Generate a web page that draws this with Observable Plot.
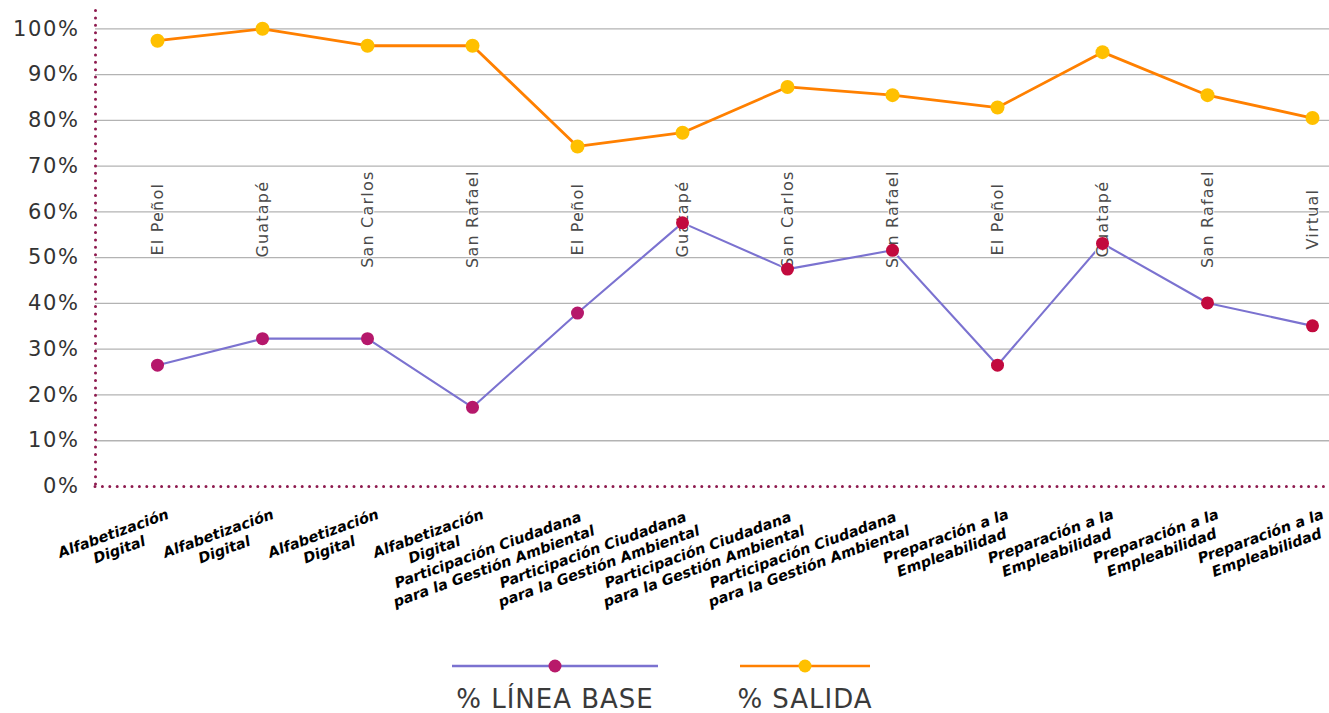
<!DOCTYPE html>
<html><head><meta charset="utf-8">
<script src="https://cdn.jsdelivr.net/npm/d3@7"></script>
<script src="https://cdn.jsdelivr.net/npm/@observablehq/plot@0.6"></script>
<style>
body{margin:0;background:#fff;}
#chart svg,#legend svg{display:block;}
</style></head><body><div id="chart"></div><div id="legend"></div>
<script>
const programas = [
  "Alfabetización\nDigital","Alfabetización\nDigital","Alfabetización\nDigital","Alfabetización\nDigital",
  "Participación Ciudadana\npara la Gestión Ambiental","Participación Ciudadana\npara la Gestión Ambiental",
  "Participación Ciudadana\npara la Gestión Ambiental","Participación Ciudadana\npara la Gestión Ambiental",
  "Preparación a la\nEmpleabilidad","Preparación a la\nEmpleabilidad","Preparación a la\nEmpleabilidad","Preparación a la\nEmpleabilidad"
];
const municipios = ["El Peñol","Guatapé","San Carlos","San Rafael","El Peñol","Guatapé","San Carlos","San Rafael","El Peñol","Guatapé","San Rafael","Virtual"];
const lineaBase = [26.5, 32.3, 32.3, 17.3, 37.9, 57.6, 47.5, 51.6, 26.5, 53.1, 40.1, 35.1];
const salida    = [97.4, 100, 96.3, 96.3, 74.3, 77.3, 87.3, 85.5, 82.8, 94.9, 85.5, 80.5];
const yTicks = [0,10,20,30,40,50,60,70,80,90,100];
const seriesNames = ["% LÍNEA BASE", "% SALIDA"];

const idx = d3.range(municipios.length);
const rows = idx.map(i => ({i, programa: programas[i], municipio: municipios[i], base: lineaBase[i], salida: salida[i]}));

const W = 1329, H = 645;
const FONT = "DejaVu Sans";
const theta = 20 * Math.PI / 180;
const LFS = 14.5;
const ctx = document.createElement("canvas").getContext("2d");
ctx.font = `italic bold ${LFS}px "${FONT}"`;

const groupMarks = Array.from(new Set(programas)).map(p => {
  const w = d3.max(p.split("\n"), s => ctx.measureText(s).width);
  const cx = 8, cy = 20;
  return Plot.text(rows.filter(d => d.programa === p), {
    x: "i", y: 0, text: "programa",
    textAnchor: "middle", lineAnchor: "top", rotate: -20,
    dx: cx - w / 2 * Math.cos(theta), dy: cy + w / 2 * Math.sin(theta),
    fontSize: LFS, fontWeight: "bold", fontStyle: "italic", fontFamily: FONT,
    fill: "#000", lineHeight: 1.2
  });
});

const dotted = {stroke: "#8e1b4f", strokeWidth: 3, strokeDasharray: "0 7.4", strokeLinecap: "round"};

const chart = Plot.plot({
  width: W, height: H,
  marginLeft: 95, marginRight: 0, marginTop: 10, marginBottom: 159,
  style: {color: "#333", fontFamily: FONT, background: "#fff"},
  x: {type: "point", domain: idx, range: [152, 1317], padding: 0, axis: null},
  y: {domain: [0, 104], axis: null},
  color: {type: "identity"},
  marks: [
    Plot.ruleY(yTicks.filter(t => t > 0), {stroke: "#b3b3b3", strokeWidth: 1.3}),
    Plot.axisY(yTicks, {tickSize: 0, tickPadding: 16, tickFormat: d => d + "%", fontSize: 21, fill: "#333"}),
    Plot.frame({anchor: "left", ...dotted}),
    Plot.ruleY([0], dotted),
    Plot.line(rows, {x: "i", y: "base", stroke: "#7b72d0", strokeWidth: 2.1}),
    Plot.line(rows, {x: "i", y: "salida", stroke: "#ff8000", strokeWidth: 2.8}),
    Plot.text(rows, {x: "i", y: 58.4, text: "municipio", rotate: -90, textAnchor: "middle", lineAnchor: "middle",
      fontSize: 16, fontFamily: FONT, fill: "#4a4a4a", stroke: "#fff", strokeWidth: 2}),
    Plot.dot(rows, {x: "i", y: "base", r: 6.5, fill: d => d.i < 5 ? "#b5186b" : "#c20a3e", stroke: null}),
    Plot.dot(rows, {x: "i", y: "salida", r: 7, fill: "#ffc000", stroke: null}),
    ...groupMarks
  ]
});
document.getElementById("chart").appendChild(chart);
d3.select(chart).selectAll("text")
  .filter(function() { return (this.getAttribute("transform") || "").includes("rotate(-90)"); })
  .style("letter-spacing", "1.2px");
d3.select(chart).selectAll("text")
  .filter(function() { return /^\d+%$/.test(this.textContent); })
  .style("letter-spacing", "1.6px");

// Legend
const lg = d3.select("#legend").append("svg").attr("width", W).attr("height", 713 - H)
  .style("font-family", FONT);
const items = [
  {name: seriesNames[0], x1: 452, x2: 658, line: "#7b72d0", dot: "#b81a6a"},
  {name: seriesNames[1], x1: 740, x2: 870, line: "#ff8000", dot: "#ffc000"}
];
items.forEach(it => {
  lg.append("line").attr("x1", it.x1).attr("x2", it.x2).attr("y1", 21).attr("y2", 21)
    .attr("stroke", it.line).attr("stroke-width", 2.6);
  lg.append("circle").attr("cx", (it.x1 + it.x2) / 2).attr("cy", 21).attr("r", 6.5).attr("fill", it.dot);
  lg.append("text").attr("x", (it.x1 + it.x2) / 2).attr("y", 63).attr("text-anchor", "middle")
    .attr("font-size", 26).attr("fill", "#3a3a3a").style("letter-spacing", "1px").text(it.name);
});
</script></body></html>
